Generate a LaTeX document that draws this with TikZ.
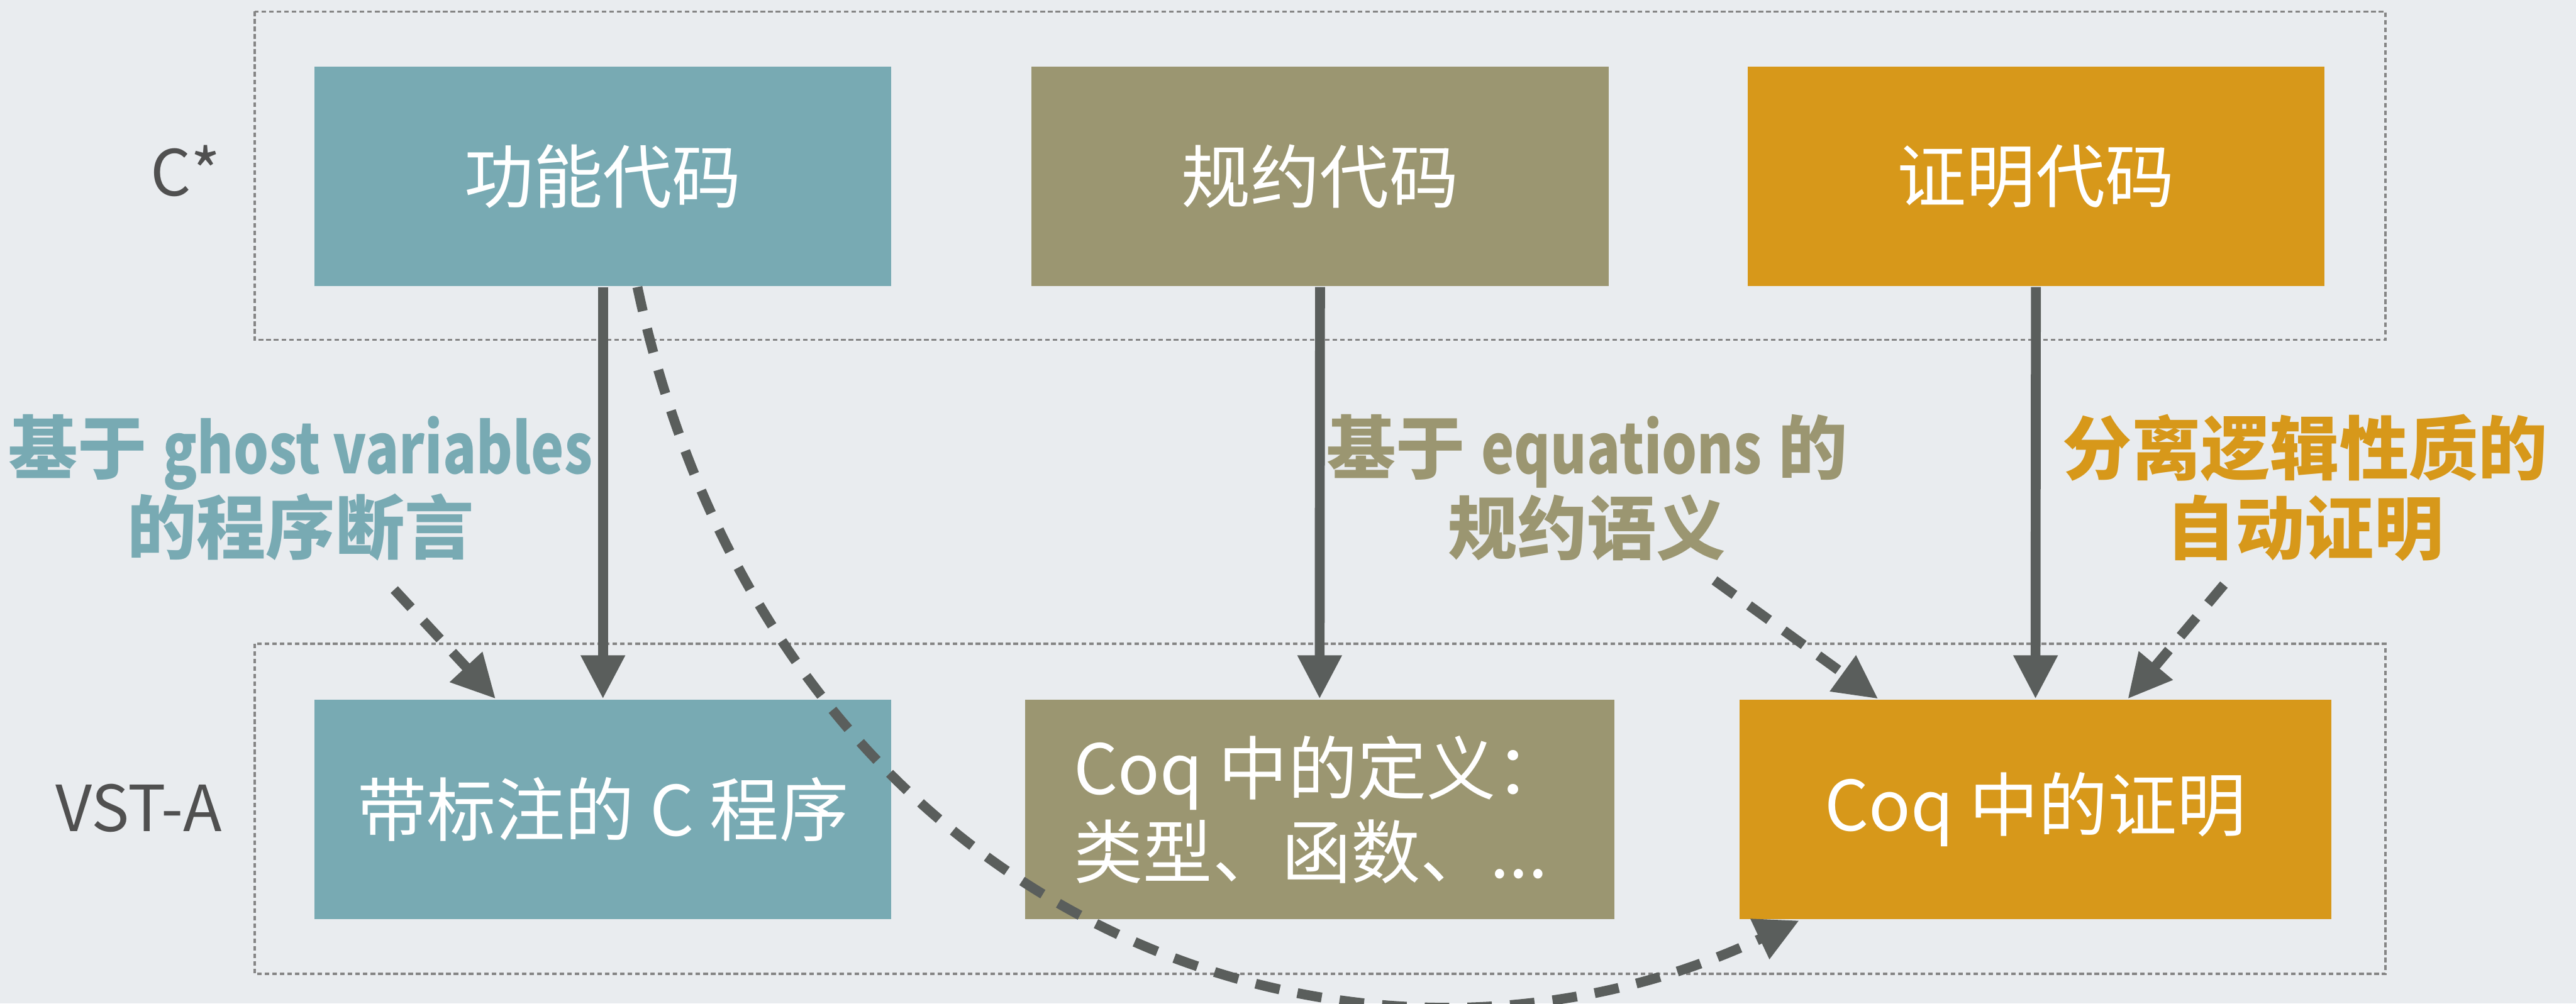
\documentclass[tikz,border=0pt]{standalone}
\usepackage{fontspec}
\setmainfont{Noto Sans CJK SC}
\newfontfamily\condfont[FakeStretch=0.8]{Noto Sans CJK SC}
\usetikzlibrary{arrows.meta,calc}
\definecolor{bg}{HTML}{E9ECEF}
\definecolor{cteal}{HTML}{78AAB3}
\definecolor{colive}{HTML}{9B9671}
\definecolor{corange}{HTML}{D7981A}
\definecolor{cgray}{HTML}{5A5E5C}
\definecolor{cdash}{HTML}{858585}
\definecolor{ctext}{HTML}{505050}
\begin{document}
\begin{tikzpicture}[x=0.01cm,y=-0.01cm,
  box/.style={rectangle, inner sep=0pt, text=white, font=\fontsize{12}{14.5}\selectfont, align=center, minimum height=13.35mm},
  lane/.style={draw=cdash, line width=0.35pt, dash pattern=on 0.28mm off 0.18mm},
  conn/.style={draw=cgray, line width=0.6mm, -{Triangle[length=2.65mm,width=2.55mm]}},
  dconn/.style={conn, dash pattern=on 1.5mm off 1.1mm},
  lab/.style={font=\fontsize{12}{13.9}\selectfont\bfseries, align=center},
  side/.style={text=ctext, font=\fontsize{11}{13}\selectfont}]
\fill[bg] (0,0) rectangle (1568,611);
\useasboundingbox (0,0) rectangle (1568,611);
\draw[lane] (155,7) rectangle (1452,207);
\draw[lane] (155,392) rectangle (1452,593);

\node[side] (cs) at (113,104) {C*};
\node[side] (vst) at (84.5,492) {VST-A};

\node[box, fill=cteal, minimum width=35.1mm] (t1) at (367,107.3) {功能代码};
\node[box, fill=colive, minimum width=35.1mm] (t2) at (803.5,107.3) {规约代码};
\node[box, fill=corange, minimum width=35.1mm] (t3) at (1239.25,107.3) {证明代码};

\node[box, fill=cteal, minimum width=35.1mm] (b1) at (367,493) {带标注的 C 程序};
\node[box, fill=colive, minimum width=35.85mm, align=left] (b2) at (803.25,493) {Coq 中的定义：\\类型、函数、...};
\node[box, fill=corange, minimum width=36mm] (b3) at (1239,493) {Coq 中的证明};

\node[lab, text=cteal] (l1) at (183,297) {基于 {\condfont\bfseries ghost variables}\\的程序断言};
\node[lab, text=colive] (l2) at (966,297) {基于 {\condfont\bfseries equations} 的\\规约语义};
\node[lab, text=corange] (l3) at (1403,297) {分离逻辑性质的\\自动证明};

\draw[conn] (t1.south) -- (b1.north);
\draw[conn] (t2.south) -- (b2.north);
\draw[conn] (t3.south) -- (b3.north);

\coordinate (s1) at (240,359);
\coordinate (s2) at (1043.6,353.4);
\coordinate (s3) at (1353.7,356);
\draw[dconn] (s1) -- ($(b1.north west)+(111,0)$);
\draw[dconn] (s2) -- ($(b3.north west)+(85,0)$);
\draw[dconn] (s3) -- ($(b3.north west)+(237,0)$);
\draw[dconn] ($(t1.south)+(21,0)$) .. controls (470,560) and (820,690) .. ($(b3.south west)+(37,0)$);
\end{tikzpicture}
\end{document}
